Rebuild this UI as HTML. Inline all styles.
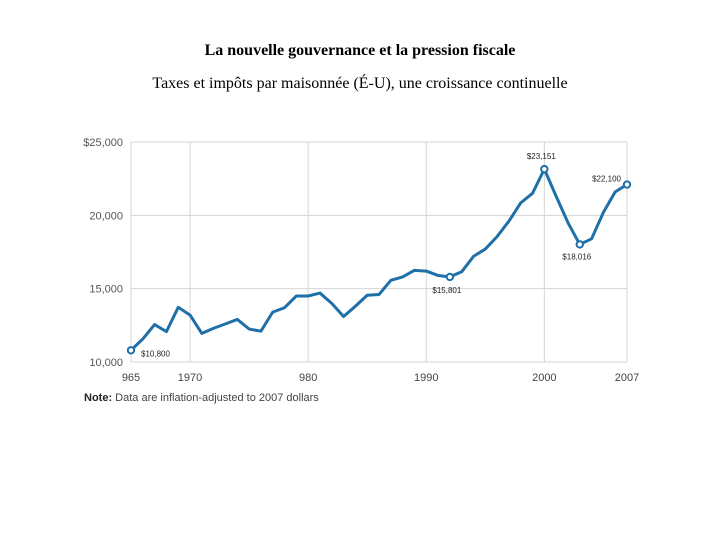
<!DOCTYPE html>
<html><head><meta charset="utf-8"><style>
body{margin:0;background:#fff;width:720px;height:540px;overflow:hidden;font-family:"Liberation Serif",serif}
.t1{position:absolute;top:42px;left:0;width:720px;text-align:center;font-size:16px;font-weight:bold;color:#000}
.t2{position:absolute;top:75px;left:0;width:720px;text-align:center;font-size:16px;color:#000}
svg{position:absolute;top:0;left:0}
</style></head><body>
<div class="t1">La nouvelle gouvernance et la pression fiscale</div>
<div class="t2">Taxes et impôts par maisonnée (É-U), une croissance continuelle</div>
<svg id="c" width="720" height="540"></svg>
<script>
const years=[1965,1966,1967,1968,1969,1970,1971,1972,1973,1974,1975,1976,1977,1978,1979,1980,1981,1982,1983,1984,1985,1986,1987,1988,1989,1990,1991,1992,1993,1994,1995,1996,1997,1998,1999,2000,2001,2002,2003,2004,2005,2006,2007];
const values=[10800,11570,12550,12070,13730,13200,11950,12300,12600,12900,12250,12100,13400,13700,14500,14500,14700,14000,13100,13800,14550,14600,15570,15800,16250,16200,15900,15801,16150,17200,17700,18550,19600,20850,21500,23151,21300,19500,18016,18400,20200,21600,22100];
const yTicks=[10000,15000,20000,25000];
const yTickLabels=["10,000","15,000","20,000","$25,000"];
const xTicks=[1965,1970,1980,1990,2000,2007];
const xTickLabels=["965","1970","980","1990","2000","2007"];
const callouts=[[1965,10800,"$10,800"],[1992,15801,"$15,801"],[2000,23151,"$23,151"],[2003,18016,"$18,016"],[2007,22100,"$22,100"]];
const X0=131,X1=627,Y0=362,Y1=142;
const xs=v=>X0+(v-1965)/(2007-1965)*(X1-X0);
const ys=v=>Y0-(v-10000)/15000*(Y0-Y1);
const svg=document.getElementById('c');const NS='http://www.w3.org/2000/svg';
function mk(t,a,txt){const e=document.createElementNS(NS,t);for(const k in a)e.setAttribute(k,a[k]);if(txt!=null)e.textContent=txt;svg.appendChild(e);return e;}
const F='"Liberation Sans",sans-serif';
yTicks.forEach((v,i)=>{
 const g=mk('line',{x1:X0,x2:X1,y1:ys(v),y2:ys(v),stroke:'#d4d4d4','stroke-width':1});
 
 
 const t=mk('text',{x:123,y:ys(v)+4,'text-anchor':'end','font-size':11,fill:'#555','font-family':F},yTickLabels[i]);
 
 
});
xTicks.forEach((v,i)=>{
 const g=mk('line',{x1:xs(v),x2:xs(v),y1:Y1,y2:Y0,stroke:'#d4d4d4','stroke-width':1});
 
 
 const t=mk('text',{x:xs(v),y:381,'text-anchor':'middle','font-size':11,fill:'#444','font-family':F},xTickLabels[i]);
 
 
});
const pts=years.map((y,i)=>xs(y)+','+ys(values[i])).join(' ');
const l=mk('polyline',{points:pts,fill:'none',stroke:'#1f6fa8','stroke-width':3,'stroke-linejoin':'round'});


const offs={1965:[10,6,'start'],1992:[-3,16,'middle'],2000:[-3,-10,'middle'],2003:[-3,15,'middle'],2007:[-6,-3,'end']};
callouts.forEach(c=>{
 const cx=xs(c[0]),cy=ys(c[1]);
 const m=mk('circle',{cx:cx,cy:cy,r:3.2,fill:'#fff',stroke:'#1f6fa8','stroke-width':2});
 
 
 const o=offs[c[0]];
 const t=mk('text',{x:cx+o[0],y:cy+o[1],'text-anchor':o[2],'font-size':8,fill:'#222','font-family':F},c[2]);
 
 
});
const n=mk('text',{x:84,y:401,'font-size':11,fill:'#444','font-family':F});


n.innerHTML='<tspan font-weight="bold" fill="#222">Note:</tspan> Data are inflation-adjusted to 2007 dollars';
</script>
</body></html>
